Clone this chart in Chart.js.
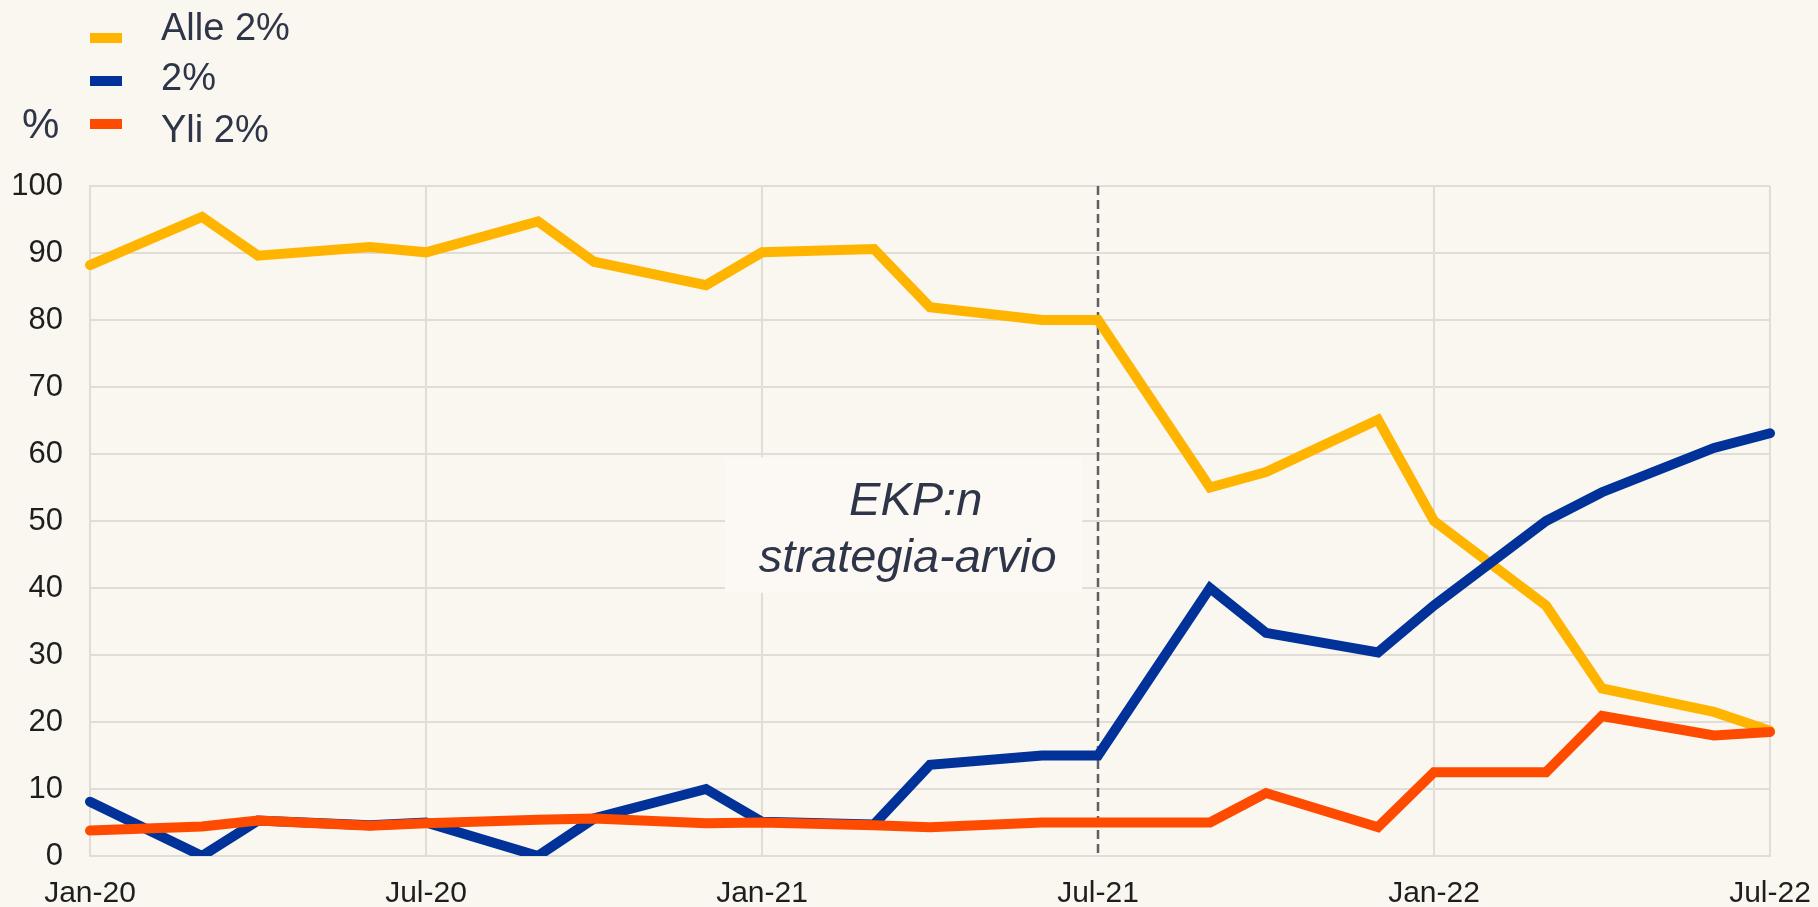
<!DOCTYPE html>
<html>
<head>
<meta charset="utf-8">
<script src="https://cdn.jsdelivr.net/npm/chart.js@4/dist/chart.umd.min.js"></script>
<style>
  html, body { margin: 0; padding: 0; background: #faf6f0; }
  #wrap { width: 1818px; height: 907px; position: relative; }
  canvas { display: block; }
</style>
</head>
<body>
<div id="wrap"><canvas id="c" width="1818" height="907"></canvas></div>
<script>
// ---- data ----
const months = [
  'Jan-20','Feb-20','Mar-20','Apr-20','May-20','Jun-20','Jul-20','Aug-20','Sep-20','Oct-20','Nov-20','Dec-20',
  'Jan-21','Feb-21','Mar-21','Apr-21','May-21','Jun-21','Jul-21','Aug-21','Sep-21','Oct-21','Nov-21','Dec-21',
  'Jan-22','Feb-22','Mar-22','Apr-22','May-22','Jun-22','Jul-22'
];
const xTickLabels = ['Jan-20','Jul-20','Jan-21','Jul-21','Jan-22','Jul-22'];
const yTickValues = [0,10,20,30,40,50,60,70,80,90,100];
const surveyMonths = [
  'Jan-20','Mar-20','Apr-20','Jun-20','Jul-20','Sep-20','Oct-20','Dec-20',
  'Jan-21','Mar-21','Apr-21','Jun-21','Jul-21','Sep-21','Oct-21','Dec-21',
  'Jan-22','Mar-22','Apr-22','Jun-22','Jul-22'
];
const seriesNames = ['Alle 2%', '2%', 'Yli 2%'];
const below2 = [88.2, 95.4, 89.6, 90.9, 90.1, 94.7, 88.7, 85.2, 90.1, 90.6, 81.9, 80.0, 80.0, 55.0, 57.3, 65.1, 50.0, 37.4, 25.0, 21.5, 18.7];
const at2    = [ 8.1,  0.0,  5.3,  4.6,  5.0,  0.0,  5.6, 10.0,  5.1,  4.7, 13.6, 15.0, 15.0, 40.0, 33.3, 30.4, 37.4, 50.0, 54.3, 60.9, 63.1];
const above2 = [ 3.8,  4.4,  5.3,  4.5,  4.9,  5.4,  5.6,  4.9,  5.0,  4.6,  4.3,  5.0,  5.0,  5.0,  9.4,  4.3, 12.5, 12.5, 20.9, 18.0, 18.5];
const unitLabel = '%';
const strategyReviewMonth = 'Jul-21';
const annotationLines = ['EKP:n', 'strategia-arvio'];
// annotation box extent in data space (month index, percent)
const annotationXRange = [11.34, 17.72];
const annotationYRange = [39.3, 59.5];

// ---- styles ----
const FONT = "'Liberation Sans', Arial, Helvetica, sans-serif";
const BG = '#faf6f0';
const GRID = '#e0dcd6';
const TEXT_DARK = '#2e3548';
const colors = ['#ffb400', '#003299', '#ff4b00'];

const toPoints = vals => surveyMonths.map((m, i) => ({ x: m, y: vals[i] }));

const bgPlugin = {
  id: 'bg',
  beforeDraw(chart) {
    const ctx = chart.ctx;
    ctx.save();
    ctx.fillStyle = BG;
    ctx.fillRect(0, 0, chart.width, chart.height);
    ctx.restore();
  }
};

const annotationPlugin = {
  id: 'annot',
  beforeDatasetsDraw(chart) {
    const ctx = chart.ctx, xs = chart.scales.x, ys = chart.scales.y, area = chart.chartArea;
    const x0 = xs.getPixelForValue(annotationXRange[0]);
    const x1 = xs.getPixelForValue(annotationXRange[1]);
    const y0 = ys.getPixelForValue(annotationYRange[1]);
    const y1 = ys.getPixelForValue(annotationYRange[0]);
    ctx.save();
    ctx.fillStyle = '#fcf9f5';
    ctx.fillRect(x0, y0, x1 - x0, y1 - y0);
    ctx.fillStyle = TEXT_DARK;
    ctx.font = 'italic 47px ' + FONT;
    ctx.textAlign = 'center';
    ctx.textBaseline = 'alphabetic';
    const cx = (x0 + x1) / 2;
    ctx.fillText(annotationLines[0], cx + 12, y0 + 58);
    ctx.fillText(annotationLines[1], cx + 4, y0 + 115);
    const lx = xs.getPixelForValue(months.indexOf(strategyReviewMonth));
    ctx.strokeStyle = '#5f5f5f';
    ctx.lineWidth = 2.5;
    ctx.setLineDash([9, 5]);
    ctx.beginPath();
    ctx.moveTo(lx, area.top);
    ctx.lineTo(lx, area.bottom);
    ctx.stroke();
    ctx.restore();
  }
};

const legendPlugin = {
  id: 'customLegend',
  afterDraw(chart) {
    const ctx = chart.ctx;
    const swatchY = [33, 76, 119];
    const textBase = [40, 90, 142];
    ctx.save();
    ctx.font = '38px ' + FONT;
    ctx.textBaseline = 'alphabetic';
    ctx.textAlign = 'left';
    chart.data.datasets.forEach((ds, i) => {
      ctx.fillStyle = ds.borderColor;
      ctx.fillRect(90, swatchY[i], 32, 10);
      ctx.fillStyle = TEXT_DARK;
      ctx.fillText(ds.label, 161, textBase[i]);
    });
    ctx.font = '42px ' + FONT;
    ctx.fillText(unitLabel, 22, 138);
    ctx.restore();
  }
};

new Chart(document.getElementById('c'), {
  type: 'line',
  data: {
    labels: months,
    datasets: [
      { label: seriesNames[0], data: toPoints(below2), borderColor: colors[0], backgroundColor: colors[0], order: 2 },
      { label: seriesNames[1], data: toPoints(at2),    borderColor: colors[1], backgroundColor: colors[1], order: 1 },
      { label: seriesNames[2], data: toPoints(above2), borderColor: colors[2], backgroundColor: colors[2], order: 0 }
    ]
  },
  options: {
    responsive: false,
    devicePixelRatio: 1,
    animation: false,
    layout: { padding: { left: 0, top: 186, right: 48, bottom: 0 } },
    elements: {
      line: { borderWidth: 10, tension: 0, borderCapStyle: 'round', borderJoinStyle: 'miter', fill: false },
      point: { radius: 0, hoverRadius: 0 }
    },
    plugins: {
      legend: { display: false },
      tooltip: { enabled: false }
    },
    scales: {
      x: {
        type: 'category',
        offset: false,
        afterFit(s) { s.height = 51; s.paddingRight = 0; s.paddingLeft = 0; },
        grid: {
          drawTicks: false,
          lineWidth: 2,
          color: c => (c.tick && xTickLabels.includes(months[c.index]) && months[c.index] !== strategyReviewMonth) ? GRID : 'rgba(0,0,0,0)'
        },
        border: { display: true, color: GRID, width: 2 },
        ticks: {
          autoSkip: false,
          maxRotation: 0,
          minRotation: 0,
          padding: 20,
          color: '#1e1e1e',
          font: { family: FONT, size: 30 },
          callback: (v, i) => xTickLabels.includes(months[i]) ? months[i] : ''
        }
      },
      y: {
        min: 0,
        max: 100,
        afterFit(s) { s.width = 90; s.paddingTop = 0; s.paddingBottom = 0; },
        afterBuildTicks(s) { s.ticks = yTickValues.map(v => ({ value: v })); },
        grid: { drawTicks: false, lineWidth: 2, color: GRID },
        border: { display: true, color: GRID, width: 2 },
        ticks: {
          padding: 27,
          color: '#1e1e1e',
          font: { family: FONT, size: 31 }
        }
      }
    }
  },
  plugins: [bgPlugin, annotationPlugin, legendPlugin]
});
</script>
</body>
</html>
